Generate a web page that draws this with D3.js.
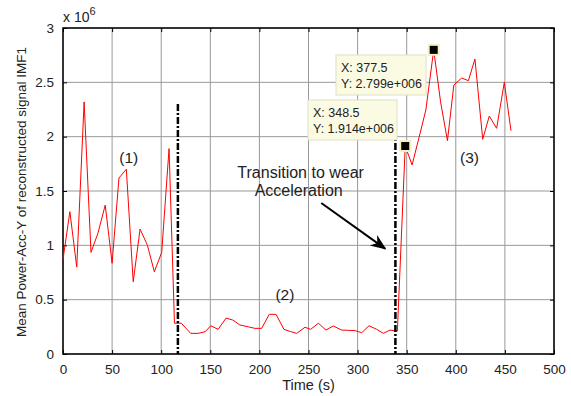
<!DOCTYPE html>
<html>
<head>
<meta charset="utf-8">
<script src="https://cdn.jsdelivr.net/npm/d3@7"></script>
<style>
  body { margin: 0; background: #fff; }
  text { font-family: "Liberation Sans", Arial, sans-serif; fill: #222; }
</style>
</head>
<body>
<div id="chart"></div>
<script>
/* Time (s) of each sample */
var times = [0, 7, 14, 21.5, 28.5, 35.5, 43, 50, 57, 64.5, 71.5, 78.5, 86, 93, 100.5, 108,
    113.5, 120.5, 130, 137.5, 144.8, 150.5, 158, 166, 172.8, 180.2, 188.7, 195.5, 202.3, 210, 216.9,
    225, 231.5, 238, 246.4, 252.2, 260, 267.8, 275.2, 283.8, 290.5, 297.4, 304.2, 311.6, 319.5, 326.2, 333, 340.5,
    348.5, 355.5, 362.5, 369.5, 377.5, 384.5, 391.5, 398, 406, 412.8, 419.5, 427.4, 434.1, 441.6, 449.4, 456.2];

/* Mean power, in units of 10^6 */
var power = [0.87, 1.31, 0.80, 2.32, 0.935, 1.11, 1.37, 0.835, 1.62, 1.70, 0.665, 1.15, 1.0, 0.757, 0.935, 1.89,
    0.283, 0.283, 0.19, 0.19, 0.205, 0.26, 0.227, 0.33, 0.313, 0.267, 0.25, 0.236, 0.236, 0.365, 0.365,
    0.227, 0.207, 0.19, 0.246, 0.227, 0.283, 0.22, 0.258, 0.22, 0.218, 0.215, 0.196, 0.26, 0.227, 0.19, 0.22, 0.21,
    1.914, 1.74, 1.99, 2.245, 2.799, 2.32, 1.963, 2.475, 2.54, 2.515, 2.715, 1.976, 2.19, 2.077, 2.5, 2.055];

var xTicks = [0, 50, 100, 150, 200, 250, 300, 350, 400, 450, 500];
var yTicks = [0, 0.5, 1, 1.5, 2, 2.5, 3];

/* stage boundaries (dash-dot lines) */
var boundaries = [{t: 117, top: 2.3}, {t: 338.5, top: 2.3}];

/* data tips */
var tips = [
    {x: 377.5, y: 2.799, lines: ["X: 377.5", "Y: 2.799e+006"], bx: 336, by: 55, bw: 90, bh: 40},
    {x: 348.5, y: 1.914, lines: ["X: 348.5", "Y: 1.914e+006"], bx: 308, by: 100, bw: 89, bh: 40}
];

var stageLabels = [{t: 67, v: 1.76, text: "(1)"}, {t: 226, v: 0.5, text: "(2)"}, {t: 414, v: 1.76, text: "(3)"}];

var W = 571, H = 396;
var margin = {top: 28, right: 17, bottom: 42, left: 63};
var width = W - margin.left - margin.right,
    height = H - margin.top - margin.bottom;

var svg = d3.select("#chart").append("svg")
    .attr("width", W)
    .attr("height", H);

var defs = svg.append("defs");
defs.append("marker")
    .attr("id", "arrow")
    .attr("viewBox", "0 0 10 10")
    .attr("refX", 9).attr("refY", 5)
    .attr("markerWidth", 8).attr("markerHeight", 8)
    .attr("orient", "auto")
    .append("path")
    .attr("d", "M0,1 L10,5 L0,9 L3,5 Z")
    .attr("fill", "#000");

var g = svg.append("g")
    .attr("transform", "translate(" + margin.left + "," + margin.top + ")");

var x = d3.scaleLinear().domain([0, 500]).range([0, width]);
var y = d3.scaleLinear().domain([0, 3]).range([height, 0]);

// grid
g.append("g").selectAll("line")
    .data(xTicks)
    .enter().append("line")
    .attr("x1", d => x(d)).attr("x2", d => x(d))
    .attr("y1", 0).attr("y2", height)
    .attr("stroke", "#999").attr("stroke-width", 1);
g.append("g").selectAll("line")
    .data(yTicks)
    .enter().append("line")
    .attr("y1", d => y(d)).attr("y2", d => y(d))
    .attr("x1", 0).attr("x2", width)
    .attr("stroke", "#999").attr("stroke-width", 1);

// axes with inward ticks
var fmt = d => String(d);
var xAxis = d3.axisBottom(x).tickValues(xTicks).tickFormat(fmt).tickSizeInner(-4).tickSizeOuter(0).tickPadding(10);
var yAxis = d3.axisLeft(y).tickValues(yTicks).tickFormat(fmt).tickSizeInner(-4).tickSizeOuter(0).tickPadding(9);

var gx = g.append("g").attr("transform", "translate(0," + height + ")").call(xAxis);
var gy = g.append("g").call(yAxis);
g.append("g").call(d3.axisTop(x).tickValues(xTicks).tickSizeInner(-4).tickSizeOuter(0).tickFormat(""));
g.append("g").attr("transform", "translate(" + width + ",0)")
    .call(d3.axisRight(y).tickValues(yTicks).tickSizeInner(-4).tickSizeOuter(0).tickFormat(""));

g.selectAll(".domain").remove();
g.selectAll(".tick line").attr("stroke", "#000");
[gx, gy].forEach(a => a.selectAll("text")
    .style("font-family", "Liberation Sans, Arial, sans-serif")
    .style("font-size", "13.5px")
    .attr("fill", "#222"));

// frame
g.append("rect")
    .attr("width", width).attr("height", height)
    .attr("fill", "none").attr("stroke", "#000").attr("stroke-width", 1.5);

// data line
var pts = times.map((t, i) => ({t: t, v: power[i]}));
g.append("path")
    .datum(pts)
    .attr("fill", "none")
    .attr("stroke", "#ff0000")
    .attr("stroke-width", 1)
    .attr("d", d3.line().x(d => x(d.t)).y(d => y(d.v)));

// dash-dot boundaries
g.selectAll(".bound")
    .data(boundaries)
    .enter().append("line")
    .attr("x1", d => x(d.t)).attr("x2", d => x(d.t))
    .attr("y1", d => y(d.top)).attr("y2", y(0))
    .attr("stroke", "#000").attr("stroke-width", 2.5)
    .attr("stroke-dasharray", "7,2,2,2");

// stage labels
g.selectAll(".stage")
    .data(stageLabels)
    .enter().append("text")
    .attr("x", d => x(d.t)).attr("y", d => y(d.v))
    .attr("text-anchor", "middle")
    .style("font-size", "15.5px")
    .text(d => d.text);

// transition annotation
g.append("text")
    .attr("x", x(242)).attr("y", y(1.62))
    .attr("text-anchor", "middle")
    .style("font-size", "16px")
    .text("Transition to wear");
g.append("text")
    .attr("x", x(240)).attr("y", y(1.45))
    .attr("text-anchor", "middle")
    .style("font-size", "16px")
    .text("Acceleration");
g.append("line")
    .attr("x1", x(263)).attr("y1", y(1.39))
    .attr("x2", x(328)).attr("y2", y(0.97))
    .attr("stroke", "#000").attr("stroke-width", 2)
    .attr("marker-end", "url(#arrow)");

// data tips
tips.forEach(function(tp) {
    var box = svg.append("g");
    box.append("rect")
        .attr("x", tp.bx).attr("y", tp.by)
        .attr("width", tp.bw).attr("height", tp.bh)
        .attr("fill", "#fbfbe4").attr("stroke", "#e0e0c4").attr("stroke-width", 1);
    tp.lines.forEach(function(s, i) {
        box.append("text")
            .attr("x", tp.bx + 5).attr("y", tp.by + 17 + i * 16)
            .style("font-size", "12.5px")
            .text(s);
    });
    g.append("rect")
        .attr("x", x(tp.x) - 5).attr("y", y(tp.y) - 5)
        .attr("width", 10).attr("height", 10)
        .attr("fill", "#000").attr("stroke", "#f6f0c0").attr("stroke-width", 2);
});

// axis labels
svg.append("text")
    .attr("x", margin.left + width / 2).attr("y", 390)
    .attr("text-anchor", "middle")
    .style("font-size", "14.5px")
    .text("Time (s)");
svg.append("text")
    .attr("transform", "translate(26," + (margin.top + height / 2 + 1) + ") rotate(-90)")
    .attr("text-anchor", "middle")
    .style("font-size", "13.5px")
    .text("Mean Power-Acc-Y of reconstructed signal IMF1");

var sci = svg.append("text").attr("x", 63).attr("y", 22).style("font-size", "14px");
sci.append("tspan").text("x 10");
sci.append("tspan").attr("dy", -7).style("font-size", "11px").text("6");
</script>
</body>
</html>
